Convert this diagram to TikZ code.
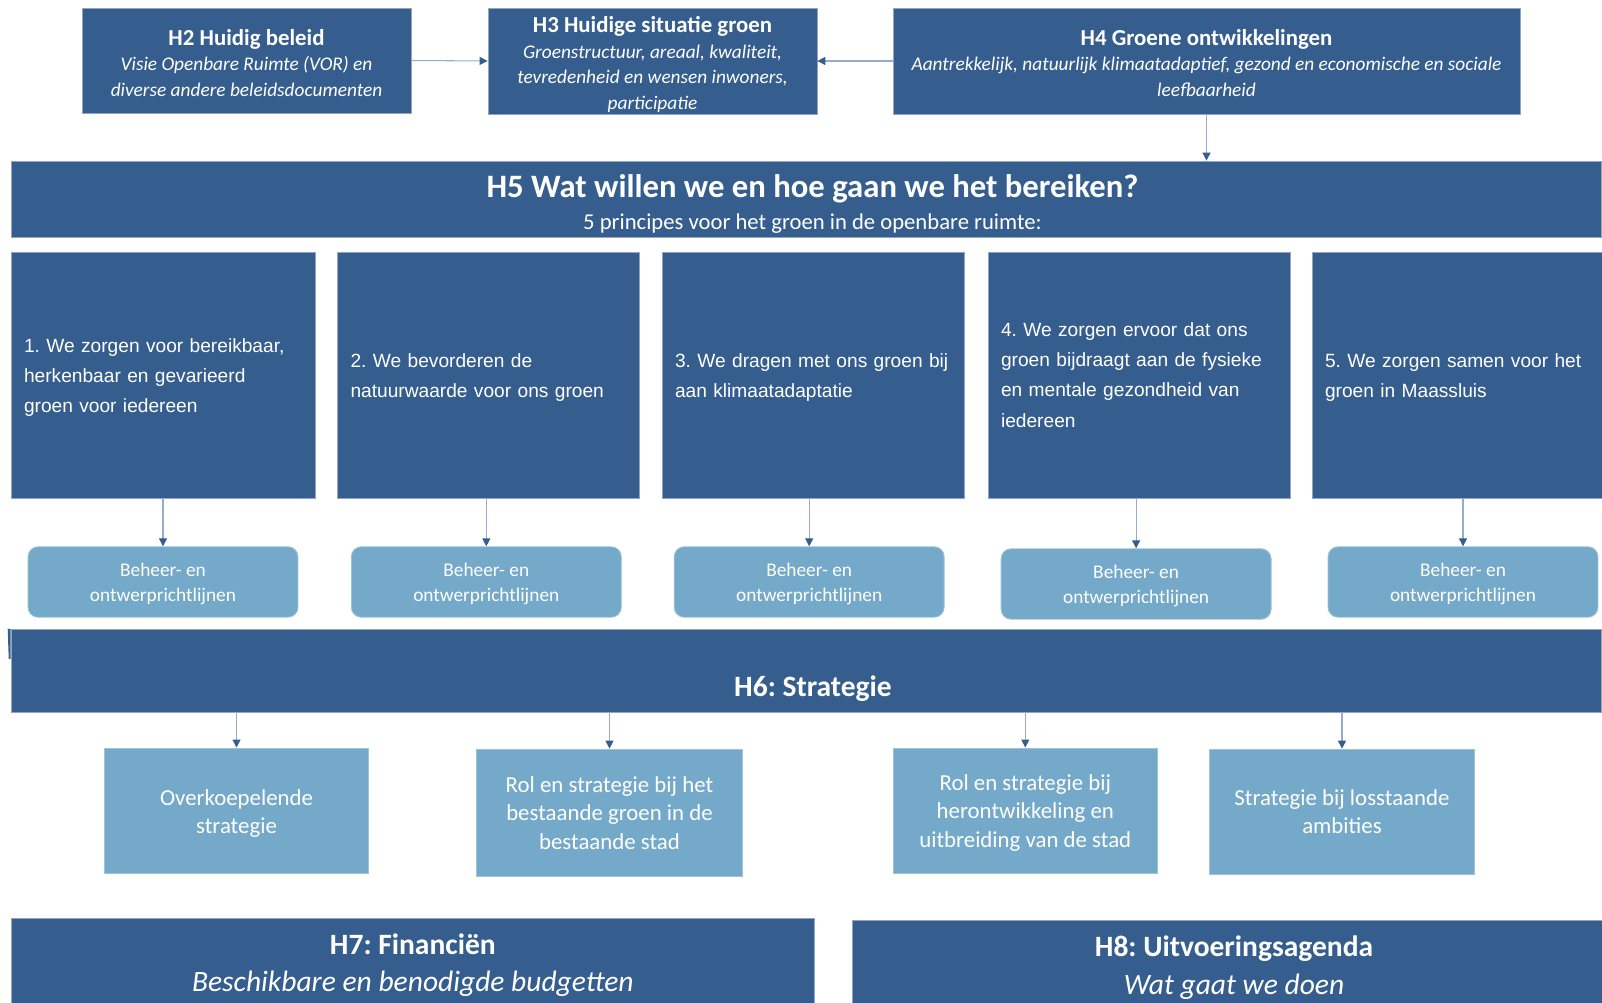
\documentclass[tikz,border=0pt]{standalone}
\usepackage{fontspec}
\setmainfont{Carlito}
\newfontfamily\arialfont{Liberation Sans}
\usetikzlibrary{arrows.meta}
\definecolor{hblue}{RGB}{53,94,142}
\definecolor{lblue}{RGB}{117,169,201}
\definecolor{linkline}{RGB}{150,172,204}
\frenchspacing

\begin{document}
\begin{tikzpicture}[x=0.02cm, y=-0.02cm,
    darkbox/.style={draw=hblue!55!white, line width=0.5pt, fill=hblue, text=white, align=center, inner sep=0pt},
    topbox/.style={darkbox, font=\fontsize{11}{14.5}\selectfont},
    prinbox/.style={darkbox, align=left, inner xsep=0.26cm, minimum height=4.92cm, font=\arialfont\fontsize{10.9}{17.2}\selectfont},
    rulebox/.style={draw=lblue!70!white, line width=0.5pt, fill=lblue, text=white, align=center, rounded corners=0.2cm, minimum width=5.4cm, minimum height=1.41cm, font=\fontsize{11}{13.9}\selectfont},
    stratbox/.style={draw=lblue!70!white, line width=0.5pt, fill=lblue, text=white, align=center, minimum width=5.29cm, minimum height=2.51cm, font=\fontsize{13}{16.2}\selectfont},
    arr/.style={draw=linkline, line width=0.6pt, -{Triangle[length=4.5pt,width=4.5pt,color=hblue]}}]
  \useasboundingbox (0,0) rectangle (1602,1003);
  % top row
  \node[topbox, minimum width=6.58cm, minimum height=2.10cm] (h2) at (246.5,60.5)
    {{\bfseries\fontsize{13}{14.5}\selectfont\rule{0pt}{11.8pt}H2 Huidig beleid}\\ \textit{Visie Openbare Ruimte (VOR) en}\\ \textit{diverse andere beleidsdocumenten}};
  \node[topbox, minimum width=6.58cm, minimum height=2.12cm] (h3) at (652.5,61)
    {{\bfseries\fontsize{13}{14.5}\selectfont\rule{0pt}{13pt}H3 Huidige situatie groen}\\ \textit{Groenstructuur, areaal, kwaliteit,}\\ \textit{tevredenheid en wensen inwoners,}\\ \textit{participatie}};
  \node[topbox, minimum width=12.54cm, minimum height=2.12cm] (h4) at (1206.5,61)
    {{\bfseries\fontsize{13}{14.5}\selectfont\rule{0pt}{11.4pt}H4 Groene ontwikkelingen}\\ \textit{Aantrekkelijk, natuurlijk klimaatadaptief, gezond en economische en sociale}\\ \textit{leefbaarheid}};
  % H5 and principles
  \node[darkbox, minimum width=31.82cm, minimum height=1.52cm] (h5) at (806.5,199) {};
  \node[text=white, align=center, inner sep=0pt, font=\fontsize{12.9}{18}\selectfont] (h5t) at (812.5,204)
    {{\bfseries\fontsize{18.6}{18}\selectfont H5 Wat willen we en hoe gaan we het bereiken?}\\ 5 principes voor het groen in de openbare ruimte:};
  \draw[arr] (h2.east) -- (h3.west);
  \draw[arr] (h4.west) -- (h3.east);
  \draw[arr] (h4.south) -- (h4.south |- h5.north);

  \node[prinbox, minimum width=6.08cm, text width=5.56cm] (p1) at (163,375)
    {\rule{0pt}{10.5pt}1. We zorgen voor bereikbaar,\\ herkenbaar en gevarieerd\\ groen voor iedereen};
  \node[prinbox, minimum width=6.04cm, text width=5.52cm] (p2) at (488.5,375)
    {\rule{0pt}{10.5pt}2. We bevorderen de\\ natuurwaarde voor ons groen};
  \node[prinbox, minimum width=6.04cm, text width=5.52cm] (p3) at (813,375)
    {\rule{0pt}{10.5pt}3. We dragen met ons groen bij\\ aan klimaatadaptatie};
  \node[prinbox, minimum width=6.04cm, text width=5.52cm] (p4) at (1139,375)
    {4. We zorgen ervoor dat ons\\ groen bijdraagt aan de fysieke\\ en mentale gezondheid van\\ iedereen};
  \node[prinbox, minimum width=5.80cm, text width=5.28cm] (p5) at (1457,375)
    {\rule{0pt}{10.5pt}5. We zorgen samen voor het\\ groen in Maassluis};

  \node[rulebox] (r1) at (163,582) {\rule{0pt}{10pt}Beheer- en\\ ontwerprichtlijnen};
  \node[rulebox] (r2) at (486.3,582) {\rule{0pt}{10pt}Beheer- en\\ ontwerprichtlijnen};
  \node[rulebox] (r3) at (809.2,582) {\rule{0pt}{10pt}Beheer- en\\ ontwerprichtlijnen};
  \node[rulebox] (r4) at (1136.1,584) {\rule{0pt}{10pt}Beheer- en\\ ontwerprichtlijnen};
  \node[rulebox] (r5) at (1463,582) {\rule{0pt}{10pt}Beheer- en\\ ontwerprichtlijnen};
  \draw[arr] (r1 |- p1.south) -- (r1.north);
  \draw[arr] (r2 |- p2.south) -- (r2.north);
  \draw[arr] (r3 |- p3.south) -- (r3.north);
  \draw[arr] (r4 |- p4.south) -- (r4.north);
  \draw[arr] (r5 |- p5.south) -- (r5.north);

  % H6 strategy
  \node[darkbox, minimum width=31.82cm, minimum height=1.654cm] (h6) at (806.5,670.7) {};
  \fill[hblue] (h6.north west) -- ++(-3,0) -- ++(1,30) -- ++(2,0) -- cycle;
  \node[text=white, font=\bfseries\fontsize{16.8}{18}\selectfont] (h6t) at (813,688.6) {H6: Strategie};

  \node[stratbox] (s1) at (236.5,810.7) {\rule{0pt}{12pt}Overkoepelende\\ strategie};
  \node[stratbox, minimum width=5.33cm, minimum height=2.55cm] (s2) at (609.5,812.8) {Rol en strategie bij het\\ bestaande groen in de\\ bestaande stad};
  \node[stratbox] (s3) at (1025.3,810.7) {\rule{0pt}{11.5pt}Rol en strategie bij\\ herontwikkeling en\\ uitbreiding van de stad};
  \node[stratbox] (s4) at (1342,811.8) {Strategie bij losstaande\\ ambities};
  \foreach \s in {s1,s2,s3,s4}
    \draw[arr] (\s |- h6.south) -- (\s.north);

  % bottom row
  \node[darkbox, minimum width=16.06cm, minimum height=1.87cm, font=\fontsize{16.8}{21.4}\selectfont] (h7) at (412.8,965.3)
    {{\bfseries H7: Financiën}\\ \textit{Beschikbare en benodigde budgetten}};
  \node[darkbox, minimum width=15.28cm, minimum height=1.89cm, font=\fontsize{16.8}{21.4}\selectfont] (h8) at (1234,967.8)
    {{\bfseries H8: Uitvoeringsagenda}\\ \textit{Wat gaat we doen}};
\end{tikzpicture}
\end{document}
